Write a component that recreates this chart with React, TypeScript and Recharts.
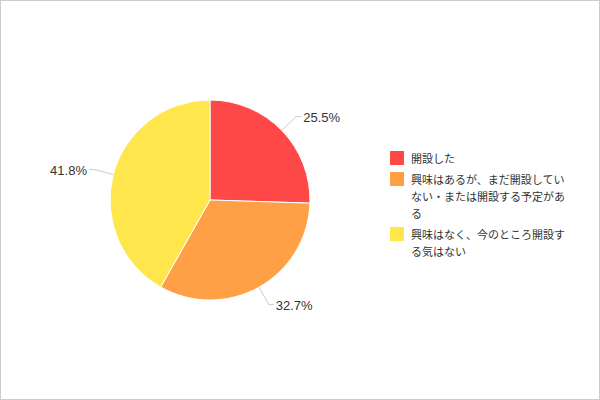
import React from "react";
import { PieChart, Pie, Cell, Legend } from "recharts";

const categories = [
  "開設した",
  "興味はあるが、まだ開設していない・または開設する予定がある",
  "興味はなく、今のところ開設する気はない",
];
const values = [25.5, 32.7, 41.8];
const colors = ["#FF4848", "#FFA046", "#FFE64C"];

const data = categories.map((name, i) => ({ name, value: values[i] }));

const RADIAN = Math.PI / 180;

const renderLabel = (props: any) => {
  const { cx, cy, midAngle, outerRadius, value } = props;
  const cos = Math.cos(-midAngle * RADIAN);
  const sin = Math.sin(-midAngle * RADIAN);
  const x1 = cx + outerRadius * cos;
  const y1 = cy + outerRadius * sin;
  const x2 = cx + (outerRadius + 20) * cos;
  const y2 = cy + (outerRadius + 20) * sin;
  const right = cos >= 0;
  const x3 = x2 + (right ? 5 : -5);
  return (
    <g>
      <polyline
        points={`${x1},${y1} ${x2},${y2} ${x3},${y2}`}
        fill="none"
        stroke="#cccccc"
        strokeWidth={1}
      />
      <text
        x={x3 + (right ? 2 : -2)}
        y={y2 + 1}
        textAnchor={right ? "start" : "end"}
        dominantBaseline="central"
        fill="#333333"
        fontSize={13}
        fontFamily="'Liberation Sans', Arial, sans-serif"
      >
        {`${value.toFixed(1)}%`}
      </text>
    </g>
  );
};

const renderLegend = () => (
  <div style={{ width: 180 }}>
    {data.map((d, i) => (
      <div
        key={d.name}
        style={{ display: "flex", alignItems: "flex-start", marginBottom: 5 }}
      >
        <div
          style={{
            width: 14,
            height: 14,
            background: colors[i],
            flex: "0 0 14px",
            marginRight: 7,
          }}
        />
        <div
          style={{
            width: 160,
            fontSize: 11,
            lineHeight: "17px",
            marginTop: -1,
            color: "#333333",
            fontFamily: "'Noto Sans CJK JP', sans-serif",
            wordBreak: "break-all",
          }}
        >
          {d.name}
        </div>
      </div>
    ))}
  </div>
);

export default function App() {
  return (
    <div
      style={{
        position: "absolute",
        left: 0,
        top: 0,
        width: 598,
        height: 398,
        border: "1px solid #cccccc",
        background: "#ffffff",
      }}
    >
      <PieChart width={598} height={398} margin={{ top: 0, right: 0, bottom: 0, left: 0 }}>
        <Pie
          data={data}
          dataKey="value"
          nameKey="name"
          cx={209}
          cy={199}
          outerRadius={100}
          startAngle={90}
          endAngle={-270}
          stroke="#ffffff"
          strokeWidth={1}
          label={renderLabel}
          labelLine={false}
          isAnimationActive={false}
        >
          {data.map((d, i) => (
            <Cell key={d.name} fill={colors[i]} />
          ))}
        </Pie>
        <Legend
          content={renderLegend}
          wrapperStyle={{ position: "absolute", left: 389, top: 150, width: 180 }}
        />
      </PieChart>
    </div>
  );
}
